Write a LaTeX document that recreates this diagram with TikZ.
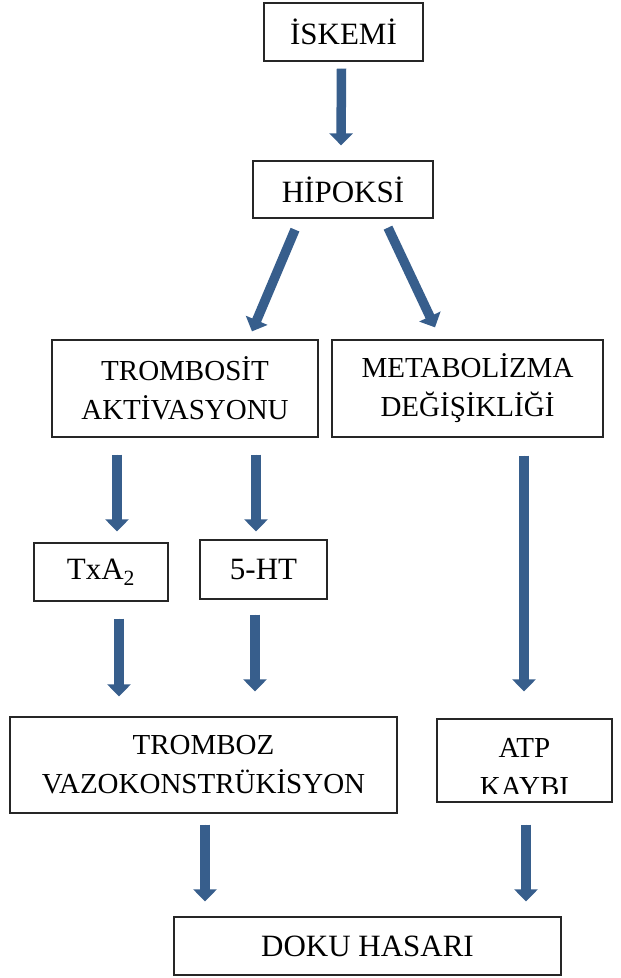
\documentclass[tikz,border=0pt]{standalone}
\usepackage{fontspec}
\setmainfont{Liberation Serif}
\usetikzlibrary{arrows.meta,calc}
\definecolor{arrowblue}{RGB}{55,94,140}
\tikzset{
  box/.style={draw=black!85, line width=1.3pt, inner sep=0pt, align=center, font=\fontsize{29}{39}\selectfont},
  bigbox/.style={box, font=\fontsize{31}{39}\selectfont},
  barrow/.style={draw=arrowblue, line width=9.5pt, -{Triangle[width=23pt,length=12pt]}, fill=arrowblue}
}
\begin{document}
\begin{tikzpicture}[x=1pt,y=-1pt]
\useasboundingbox (0,0) rectangle (621,978);
\node[bigbox, minimum width=159pt, minimum height=58pt] (isk) at (343.5,32) {İSKEMİ};
\node[bigbox, minimum width=180pt, minimum height=57pt] (hip) at (343,189.5) {HİPOKSİ};
\node[box, minimum width=266pt, minimum height=97pt] (trom) at (185,388.5) {TROMBOSİT\\AKTİVASYONU};
\node[box, minimum width=271pt, minimum height=97pt] (met) at (467.5,388.5) {METABOLİZMA\\DEĞİŞİKLİĞİ};
\node[bigbox, minimum width=134pt, minimum height=58pt] (txa) at (101,572) {TxA\textsubscript{2}};
\node[bigbox, minimum width=127pt, minimum height=59pt] (ht) at (263.5,569.5) {5-HT};
\node[box, minimum width=387pt, minimum height=96pt] (tro) at (203.5,765) {TROMBOZ\\VAZOKONSTRÜKİSYON};
\node[box, minimum width=175pt, minimum height=83pt,
  path picture={\clip ([yshift=9pt]path picture bounding box.south west) rectangle (path picture bounding box.north east);
    \node[align=center, font=\fontsize{29}{39}\selectfont] at ([yshift=-7pt]path picture bounding box.center) {ATP\\KAYBI};}
  ] (atp) at (524.5,760.5) {};
\node[bigbox, minimum width=387pt, minimum height=58pt] (doku) at (367.5,946) {DOKU HASARI};

\draw[barrow] ($(isk.south)+(-2,7)$) -- ($(hip.north)+(-2,-15)$);
\draw[barrow] ($(hip.south)+(-48,11)$) -- ($(trom.north)+(67,-8)$);
\draw[barrow] ($(hip.south)+(45,9)$) -- ($(met.north)+(-32.5,-12)$);
\draw[barrow] ($(trom.south)+(-68,17)$) -- ($(txa.north)+(16,-11)$);
\draw[barrow] ($(trom.south)+(71,17)$) -- ($(ht.north)+(-7.5,-8)$);
\draw[barrow] ($(met.south)+(56.5,18)$) -- ($(atp.north)+(-0.5,-27)$);
\draw[barrow] ($(txa.south)+(18,17)$) -- ($(tro.north)+(-84.5,-20)$);
\draw[barrow] ($(ht.south)+(-8.5,15)$) -- ($(tro.north)+(51.5,-25)$);
\draw[barrow] ($(tro.south)+(1.5,11)$) -- ($(doku.north)+(-162.5,-15)$);
\draw[barrow] ($(atp.south)+(1.5,22)$) -- ($(doku.north)+(158.5,-15)$);
\end{tikzpicture}
\end{document}
